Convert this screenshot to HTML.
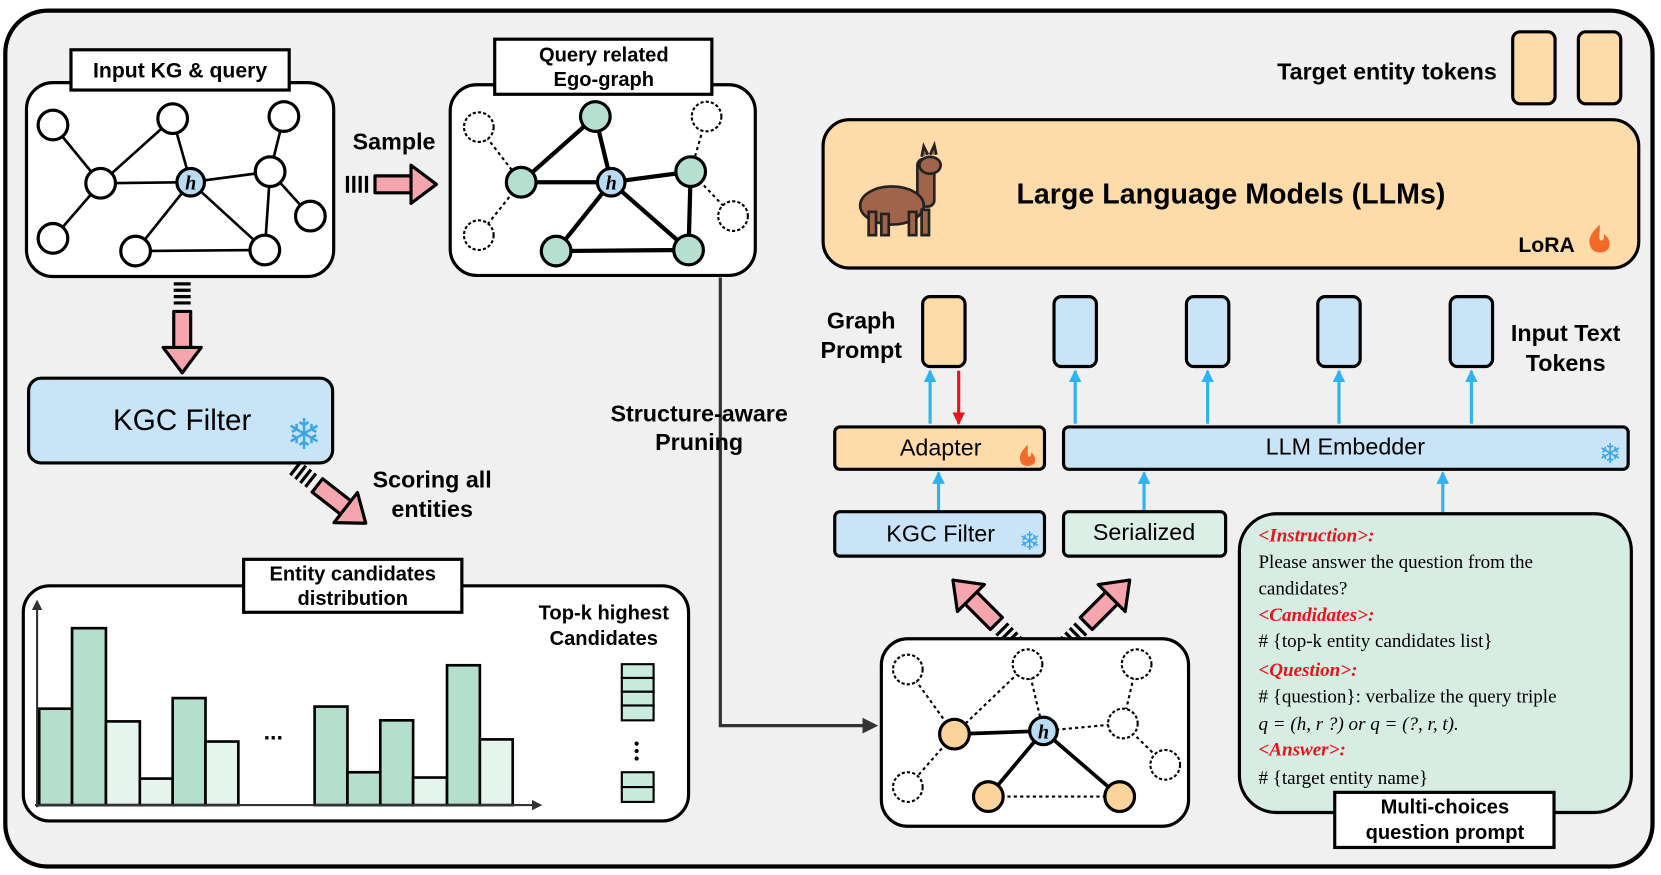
<!DOCTYPE html>
<html><head><meta charset="utf-8"><style>html,body{margin:0;padding:0;background:#fff}svg{display:block}</style></head>
<body>
<svg width="1661" height="875" viewBox="0 0 1568 826" xmlns="http://www.w3.org/2000/svg" font-family="Liberation Sans, sans-serif">
<defs>
<marker id="ab" viewBox="0 0 10 10" refX="9" refY="5" markerWidth="4" markerHeight="4" orient="auto"><path d="M0,0L10,5L0,10z" fill="#2fb3f0"/></marker>
<marker id="ar" viewBox="0 0 10 10" refX="9" refY="5" markerWidth="4" markerHeight="4" orient="auto"><path d="M0,0L10,5L0,10z" fill="#e8141c"/></marker>
<marker id="ak" viewBox="0 0 10 10" refX="8" refY="5" markerWidth="5" markerHeight="5" orient="auto"><path d="M0,0L10,5L0,10z" fill="#333"/></marker>
<g id="pa"><path d="M0,-8H34V-18L58,0L34,18V-8V8H0z" fill="#f4a5ad" stroke="#000" stroke-width="3" stroke-linejoin="round"/></g>
<g id="dash"><path d="M-6,-8V8M-12,-8V8M-18,-8V8M-24,-8V8" stroke="#000" stroke-width="3"/></g>
</defs>
<rect x="5" y="10" width="1555" height="808" rx="40" fill="#f0f0f0" stroke="#000" stroke-width="4"/>

<!-- Input KG -->
<rect x="25" y="78" width="290" height="183" rx="25" fill="#fff" stroke="#000" stroke-width="3"/>
<g stroke="#000" stroke-width="2.5">
<line x1="50" y1="118" x2="95" y2="173"/><line x1="163" y1="112" x2="95" y2="173"/><line x1="163" y1="112" x2="180" y2="172"/><line x1="95" y1="173" x2="180" y2="172"/><line x1="180" y1="172" x2="255" y2="162"/><line x1="268" y1="110" x2="255" y2="162"/><line x1="255" y1="162" x2="293" y2="204"/><line x1="255" y1="162" x2="250" y2="236"/><line x1="95" y1="173" x2="50" y2="225"/><line x1="180" y1="172" x2="128" y2="237"/><line x1="180" y1="172" x2="250" y2="236"/><line x1="128" y1="237" x2="250" y2="236"/>
</g>
<g fill="#fff" stroke="#000" stroke-width="3">
<circle cx="50" cy="118" r="14"/><circle cx="163" cy="112" r="14"/><circle cx="268" cy="110" r="14"/><circle cx="95" cy="173" r="14"/><circle cx="255" cy="162" r="14"/><circle cx="293" cy="204" r="14"/><circle cx="50" cy="225" r="14"/><circle cx="128" cy="237" r="14"/><circle cx="250" cy="236" r="14"/>
<circle cx="180" cy="172" r="13" fill="#b9dcf3"/></g>
<text x="180" y="179" font-family="Liberation Serif,serif" font-style="italic" font-weight="bold" font-size="19" text-anchor="middle">h</text>
<rect x="67" y="47" width="206" height="38" fill="#fff" stroke="#000" stroke-width="3"/>
<text x="170" y="73" font-size="20" font-weight="bold" text-anchor="middle">Input KG &amp; query</text>

<!-- Ego graph -->
<rect x="425" y="80" width="288" height="180" rx="25" fill="#fff" stroke="#000" stroke-width="3"/>
<g stroke="#000" stroke-width="2" stroke-dasharray="3,3">
<line x1="452" y1="120" x2="492" y2="172"/><line x1="667" y1="110" x2="652" y2="162"/><line x1="492" y1="172" x2="452" y2="222"/><line x1="652" y1="162" x2="692" y2="204"/></g>
<g stroke="#000" stroke-width="4">
<line x1="562" y1="110" x2="492" y2="172"/><line x1="562" y1="110" x2="577" y2="172"/><line x1="492" y1="172" x2="577" y2="172"/><line x1="577" y1="172" x2="652" y2="162"/><line x1="652" y1="162" x2="650" y2="236"/><line x1="577" y1="172" x2="525" y2="237"/><line x1="577" y1="172" x2="650" y2="236"/><line x1="525" y1="237" x2="650" y2="236"/></g>
<g fill="#fff" stroke="#000" stroke-width="2" stroke-dasharray="3,2"><circle cx="452" cy="120" r="14"/><circle cx="667" cy="110" r="14"/><circle cx="452" cy="222" r="14"/><circle cx="692" cy="204" r="14"/></g>
<g fill="#b5e0d0" stroke="#000" stroke-width="3"><circle cx="562" cy="110" r="14"/><circle cx="492" cy="172" r="14"/><circle cx="652" cy="162" r="14"/><circle cx="525" cy="237" r="14"/><circle cx="650" cy="236" r="14"/><circle cx="577" cy="172" r="13" fill="#b9dcf3"/></g>
<text x="577" y="179" font-family="Liberation Serif,serif" font-style="italic" font-weight="bold" font-size="19" text-anchor="middle">h</text>
<rect x="467" y="37" width="205" height="52" fill="#fff" stroke="#000" stroke-width="3"/>
<text x="570" y="58" font-size="19" font-weight="bold" text-anchor="middle">Query related</text>
<text x="570" y="81" font-size="19" font-weight="bold" text-anchor="middle">Ego-graph</text>

<!-- Sample arrow -->
<text x="372" y="141" font-size="22" font-weight="bold" text-anchor="middle">Sample</text>
<use href="#dash" x="352" y="174"/><use href="#pa" x="354" y="174"/>
<!-- down arrow -->
<g transform="translate(172,292) rotate(90)"><use href="#dash"/><use href="#pa" x="2"/></g>

<!-- KGC filter big -->
<rect x="27" y="357" width="287" height="80" rx="12" fill="#c9e4f6" stroke="#000" stroke-width="3"/>
<text x="172" y="406" font-size="28" text-anchor="middle">KGC Filter</text>
<text x="287" y="424" font-size="40" fill="#3aa6e8" text-anchor="middle">❄</text>

<!-- scoring -->
<g transform="translate(298,457) rotate(38)"><use href="#dash"/><use href="#pa" x="2"/></g>
<text x="408" y="460" font-size="22" font-weight="bold" text-anchor="middle">Scoring all</text>
<text x="408" y="488" font-size="22" font-weight="bold" text-anchor="middle">entities</text>

<!-- Entity distribution -->
<rect x="22" y="553" width="628" height="222" rx="25" fill="#fff" stroke="#000" stroke-width="3"/>
<g stroke="#000" stroke-width="2.5">
<rect x="37" y="669" width="31" height="91" fill="#b4dfcc"/><rect x="68" y="593" width="32" height="167" fill="#b4dfcc"/><rect x="100" y="681" width="32" height="79" fill="#e6f4ee"/><rect x="132" y="735" width="31" height="25" fill="#e6f4ee"/><rect x="163" y="659" width="31" height="101" fill="#b4dfcc"/><rect x="194" y="700" width="31" height="60" fill="#e6f4ee"/>
<rect x="297" y="667" width="31" height="93" fill="#b4dfcc"/><rect x="328" y="729" width="31" height="31" fill="#b4dfcc"/><rect x="359" y="680" width="31" height="80" fill="#b4dfcc"/><rect x="390" y="734" width="32" height="26" fill="#e6f4ee"/><rect x="422" y="628" width="31" height="132" fill="#b4dfcc"/><rect x="453" y="698" width="31" height="62" fill="#e6f4ee"/></g>
<line x1="35" y1="762" x2="35" y2="568" stroke="#333" stroke-width="2" marker-end="url(#ak)"/>
<line x1="33" y1="760" x2="510" y2="760" stroke="#333" stroke-width="2" marker-end="url(#ak)"/>
<text x="258" y="698" font-size="22" font-weight="bold" text-anchor="middle">...</text>
<text x="570" y="585" font-size="19" font-weight="bold" text-anchor="middle">Top-k highest</text>
<text x="570" y="609" font-size="19" font-weight="bold" text-anchor="middle">Candidates</text>
<g fill="#c8ebdd" stroke="#000" stroke-width="2"><rect x="587" y="627" width="30" height="13"/><rect x="587" y="640" width="30" height="13"/><rect x="587" y="653" width="30" height="13"/><rect x="587" y="666" width="30" height="14"/><rect x="587" y="729" width="30" height="14"/><rect x="587" y="743" width="30" height="14"/></g>
<g fill="#000"><circle cx="601" cy="702" r="2"/><circle cx="601" cy="709" r="2"/><circle cx="601" cy="716" r="2"/></g>
<rect x="230" y="528" width="206" height="50" fill="#fff" stroke="#000" stroke-width="3"/>
<text x="333" y="548" font-size="19" font-weight="bold" text-anchor="middle">Entity candidates</text>
<text x="333" y="571" font-size="19" font-weight="bold" text-anchor="middle">distribution</text>

<!-- pruning line -->
<polyline points="680,262 680,685 826,685" fill="none" stroke="#333" stroke-width="3" marker-end="url(#ak)"/>
<text x="660" y="398" font-size="22" font-weight="bold" text-anchor="middle">Structure-aware</text>
<text x="660" y="425" font-size="22" font-weight="bold" text-anchor="middle">Pruning</text>

<!-- target tokens -->
<text x="1413" y="75" font-size="22" font-weight="bold" text-anchor="end">Target entity tokens</text>
<rect x="1428" y="30" width="40" height="68" rx="7" fill="#fddcaa" stroke="#000" stroke-width="3"/>
<rect x="1490" y="30" width="40" height="68" rx="7" fill="#fddcaa" stroke="#000" stroke-width="3"/>

<!-- LLM -->
<rect x="777" y="113" width="770" height="140" rx="25" fill="#fddcaa" stroke="#000" stroke-width="3"/>
<text x="1162" y="192" font-size="27" font-weight="bold" text-anchor="middle">Large Language Models (LLMs)</text>
<text x="1460" y="238" font-size="20" font-weight="bold" text-anchor="middle">LoRA</text>
<path d="M1510,212c-8,8-12,14-8,22c3,6,15,6,17,-1c2,-6-2-10-5-12c1,4,-1,7-3,6c-3-3,0-9-1-15z" fill="#f36a2a"/>
<!-- llama -->
<g stroke="#222" stroke-width="2.5" fill="#a0644a">
<rect x="866" y="150" width="16" height="45" rx="6"/>
<ellipse cx="842" cy="194" rx="30" ry="18"/>
<rect x="820" y="200" width="7" height="22"/><rect x="832" y="202" width="7" height="20"/><rect x="858" y="200" width="7" height="22"/><rect x="870" y="198" width="7" height="24"/>
<ellipse cx="878" cy="156" rx="10" ry="8"/>
<path d="M870,148l2,-10l4,8M878,146l4,-9l2,9"/>
</g>

<!-- tokens -->
<rect x="871" y="280" width="40" height="66" rx="7" fill="#fddcaa" stroke="#000" stroke-width="3"/>
<g fill="#c9e4f6" stroke="#000" stroke-width="3"><rect x="995" y="280" width="40" height="66" rx="7"/><rect x="1120" y="280" width="40" height="66" rx="7"/><rect x="1244" y="280" width="40" height="66" rx="7"/><rect x="1369" y="280" width="40" height="66" rx="7"/></g>
<text x="813" y="310" font-size="22" font-weight="bold" text-anchor="middle">Graph</text>
<text x="813" y="338" font-size="22" font-weight="bold" text-anchor="middle">Prompt</text>
<text x="1478" y="322" font-size="22" font-weight="bold" text-anchor="middle">Input Text</text>
<text x="1478" y="350" font-size="22" font-weight="bold" text-anchor="middle">Tokens</text>
<g stroke="#2fb3f0" stroke-width="3" marker-end="url(#ab)">
<line x1="878" y1="400" x2="878" y2="350"/><line x1="1015" y1="400" x2="1015" y2="350"/><line x1="1140" y1="400" x2="1140" y2="350"/><line x1="1264" y1="400" x2="1264" y2="350"/><line x1="1389" y1="400" x2="1389" y2="350"/>
<line x1="886" y1="482" x2="886" y2="446"/><line x1="1080" y1="482" x2="1080" y2="446"/><line x1="1362" y1="484" x2="1362" y2="446"/></g>
<line x1="905" y1="350" x2="905" y2="400" stroke="#e8141c" stroke-width="3" marker-end="url(#ar)"/>

<rect x="788" y="403" width="198" height="40" rx="5" fill="#fddcaa" stroke="#000" stroke-width="3"/>
<text x="888" y="430" font-size="22" text-anchor="middle">Adapter</text>
<path d="M970,420c-6,6-9,11-6,17c2,4,11,4,13,-1c1,-5-2-8-4-9c1,3-1,5-2,4c-2-2,0-7-1-11z" fill="#f36a2a"/>
<rect x="1004" y="403" width="533" height="40" rx="5" fill="#c9e4f6" stroke="#000" stroke-width="3"/>
<text x="1270" y="429" font-size="22" text-anchor="middle">LLM Embedder</text>
<text x="1520" y="437" font-size="26" fill="#3aa6e8" text-anchor="middle">❄</text>
<rect x="788" y="483" width="198" height="42" rx="5" fill="#c9e4f6" stroke="#000" stroke-width="3"/>
<text x="888" y="511" font-size="22" text-anchor="middle">KGC Filter</text>
<text x="972" y="519" font-size="24" fill="#3aa6e8" text-anchor="middle">❄</text>
<rect x="1004" y="483" width="153" height="42" rx="5" fill="#dcefe6" stroke="#000" stroke-width="3"/>
<text x="1080" y="510" font-size="22" text-anchor="middle">Serialized</text>

<!-- diagonal arrows -->
<g transform="translate(942,590) rotate(-135)"><use href="#dash"/><use href="#pa" x="2"/></g>
<g transform="translate(1024,590) rotate(-45)"><use href="#dash"/><use href="#pa" x="2"/></g>

<!-- bottom graph -->
<rect x="832" y="603" width="290" height="177" rx="25" fill="#fff" stroke="#000" stroke-width="3"/>
<g stroke="#000" stroke-width="2" stroke-dasharray="3,3">
<line x1="857" y1="632" x2="901" y2="693"/><line x1="970" y1="627" x2="901" y2="693"/><line x1="970" y1="627" x2="985" y2="690"/><line x1="985" y1="690" x2="1060" y2="683"/><line x1="1073" y1="627" x2="1060" y2="683"/><line x1="1060" y1="683" x2="1100" y2="722"/><line x1="901" y1="693" x2="857" y2="743"/><line x1="933" y1="752" x2="1057" y2="752"/></g>
<g stroke="#000" stroke-width="3.5"><line x1="901" y1="693" x2="985" y2="690"/><line x1="985" y1="690" x2="933" y2="752"/><line x1="985" y1="690" x2="1057" y2="752"/></g>
<g fill="#fff" stroke="#000" stroke-width="2" stroke-dasharray="3,2"><circle cx="857" cy="632" r="14"/><circle cx="970" cy="627" r="14"/><circle cx="1073" cy="627" r="14"/><circle cx="1060" cy="683" r="14"/><circle cx="857" cy="743" r="14"/><circle cx="1100" cy="722" r="14"/></g>
<g fill="#fcd39a" stroke="#000" stroke-width="3"><circle cx="901" cy="693" r="14"/><circle cx="933" cy="752" r="14"/><circle cx="1057" cy="752" r="14"/><circle cx="985" cy="690" r="13" fill="#b9dcf3"/></g>
<text x="985" y="697" font-family="Liberation Serif,serif" font-style="italic" font-weight="bold" font-size="19" text-anchor="middle">h</text>

<!-- prompt -->
<rect x="1170" y="485" width="370" height="282" rx="35" fill="#d7ede3" stroke="#000" stroke-width="3"/>
<g font-family="Liberation Serif,serif" font-size="18">
<text x="1188" y="511" fill="#e8141c" font-style="italic" font-weight="bold">&lt;Instruction&gt;:</text>
<text x="1188" y="536">Please answer the question from the</text>
<text x="1188" y="561">candidates?</text>
<text x="1188" y="586" fill="#e8141c" font-style="italic" font-weight="bold">&lt;Candidates&gt;:</text>
<text x="1188" y="611"># {top-k entity candidates list}</text>
<text x="1188" y="638" fill="#e8141c" font-style="italic" font-weight="bold">&lt;Question&gt;:</text>
<text x="1188" y="663"># {question}: verbalize the query triple</text>
<text x="1188" y="689" font-style="italic">q = (h, r ?) or q = (?, r, t).</text>
<text x="1188" y="713" fill="#e8141c" font-style="italic" font-weight="bold">&lt;Answer&gt;:</text>
<text x="1188" y="740"># {target entity name}</text>
</g>
<rect x="1260" y="748" width="207" height="52" fill="#fff" stroke="#000" stroke-width="3"/>
<text x="1364" y="768" font-size="19" font-weight="bold" text-anchor="middle">Multi-choices</text>
<text x="1364" y="792" font-size="19" font-weight="bold" text-anchor="middle">question prompt</text>
</svg>
</body></html>
